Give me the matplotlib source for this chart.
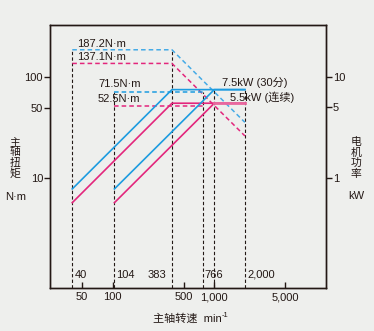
import matplotlib
matplotlib.use("Agg")
import matplotlib.pyplot as plt
import matplotlib.ticker as mticker
import matplotlib.transforms as mtrans

plt.rcParams['font.family'] = ['Liberation Sans', 'Noto Sans CJK SC', 'DejaVu Sans']

# ---- data ----
# torque (N·m) curves, left axis
speed_low = [40, 383, 2000]
torque_30_low = [187.2, 187.2, 35.8]
torque_cont_low = [137.1, 137.1, 26.3]
speed_high = [104, 766]
torque_30_high = [71.5, 71.5]
torque_cont_high = [52.5, 52.5]

# power (kW) curves, right axis
power_speed_low = [40, 383, 2000]
power_30_low = [0.78, 7.5, 7.5]
power_cont_low = [0.57, 5.5, 5.5]
power_speed_high = [104, 1000, 2000]
power_30_high = [0.78, 7.5, 7.5]
power_cont_high = [0.57, 5.5, 5.5]

# reference speeds (vertical lines) and the level they start from (left-axis value)
ref_speeds = [40, 104, 383, 766, 1000, 2000]
ref_tops = [187.2, 71.5, 187.2, 71.5, 75.0, 75.0]
ref_labels = ['40', '104', '383', '766', '', '2,000']

x_ticks = [50, 100, 500, 1000, 5000]
x_ticklabels = ['50', '100', '500', '1,000', '5,000']
yl_ticks = [10, 50, 100]
yr_ticks = [1, 5, 10]

BG = '#eeefed'
BLUE = '#1d9ce0'
BLUE_L = '#46abe6'
PINK = '#e3267c'
PINK_L = '#e9689e'
INK = '#231815'

W, H = 374, 331
fig = plt.figure(figsize=(W / 100, H / 100), dpi=100, facecolor=BG)
L, R, T, B = 50.3, 325.7, 25.3, 288.0
ax = fig.add_axes([L / W, 1 - B / H, (R - L) / W, (B - T) / H])
ax.set_facecolor(BG)
ax.set_xscale('log')
ax.set_yscale('log')
ax.set_xlim(24.3, 12500)
ax.set_ylim(0.82, 327)

ax2 = ax.twinx()
ax2.set_yscale('log')
ax2.set_ylim(0.0815, 32.5)
ax2.patch.set_visible(False)

# vertical reference lines
for s, top in zip(ref_speeds, ref_tops):
    ax.plot([s, s], [0.82, top], color=INK, lw=0.8, ls=(0, (3, 2)), zorder=2)

# torque dashed lines
ax.plot(speed_low, torque_30_low, color=BLUE_L, lw=1.1, ls=(0, (3, 2)), zorder=3)
ax.plot(speed_low, torque_cont_low, color=PINK, lw=1.1, ls=(0, (3, 2)), zorder=3)
ax.plot(speed_high, torque_30_high, color=BLUE, lw=1.1, ls=(0, (3, 2)), zorder=3)
ax.plot(speed_high, torque_cont_high, color=PINK, lw=1.1, ls=(0, (3, 2)), zorder=3)

# power solid lines
ax2.plot(power_speed_low, power_30_low, color=BLUE, lw=1.2, zorder=4)
ax2.plot(power_speed_low, power_cont_low, color=PINK, lw=1.2, zorder=4)
ax2.plot(power_speed_high, power_30_high, color=BLUE, lw=1.2, zorder=4)
ax2.plot(power_speed_high[:2], power_cont_high[:2], color=PINK, lw=1.2, zorder=4)
ax2.plot(power_speed_high[1:], power_cont_high[1:], color=PINK_L, lw=2.0, zorder=4)

# ticks
ax.xaxis.set_major_locator(mticker.FixedLocator(x_ticks))
ax.xaxis.set_major_formatter(mticker.FixedFormatter(x_ticklabels))
ax.xaxis.set_minor_locator(mticker.NullLocator())
ax.yaxis.set_major_locator(mticker.FixedLocator(yl_ticks))
ax.yaxis.set_major_formatter(mticker.FixedFormatter([str(v) for v in yl_ticks]))
ax.yaxis.set_minor_locator(mticker.NullLocator())
ax2.yaxis.set_major_locator(mticker.FixedLocator(yr_ticks))
ax2.yaxis.set_major_formatter(mticker.FixedFormatter([str(v) for v in yr_ticks]))
ax2.yaxis.set_minor_locator(mticker.NullLocator())

ax.tick_params(axis='x', direction='in', length=4.2, width=1.0, color=INK,
               labelsize=8, labelcolor=INK, pad=3)
ax.tick_params(axis='y', direction='out', length=4.2, width=1.0, color=INK,
               labelsize=8, labelcolor=INK, pad=1)
ax2.tick_params(axis='y', direction='out', length=4.2, width=1.0, color=INK,
                labelsize=8, labelcolor=INK, pad=1)
for a in (ax, ax2):
    for sp in a.spines.values():
        sp.set_color(INK)
        sp.set_linewidth(1.0)

# labels inside the axes near the bottom
trans = mtrans.blended_transform_factory(ax.transData, ax.transAxes)
for s, lab in zip(ref_speeds, ref_labels):
    if not lab:
        continue
    if lab == '383':
        ax.annotate(lab, xy=(s, 0.05), xycoords=trans, xytext=(-4, 0),
                    textcoords='offset points', ha='right', va='center',
                    fontsize=8, color=INK)
    else:
        ax.annotate(lab, xy=(s, 0.05), xycoords=trans, xytext=(1.5, 0),
                    textcoords='offset points', ha='left', va='center',
                    fontsize=8, color=INK)

def ftext(x, y, s, **kw):
    kw.setdefault('fontsize', 8)
    kw.setdefault('color', INK)
    kw.setdefault('va', 'center')
    fig.text(x / W, 1 - y / H, s, **kw)

ftext(77, 44, '187.2N·m', ha='left')
ftext(77, 57, '137.1N·m', ha='left')
ftext(98, 84.5, '71.5N·m', ha='left')
ftext(98, 98.5, '52.5N·m', ha='left')
ftext(222, 82.5, '7.5kW (30分)', ha='left')
ftext(230, 97, '5.5kW (连续)', ha='left')

ftext(15, 158, '主\n轴\n扭\n矩', ha='center', linespacing=1.05, fontsize=7.8)
ftext(16, 197, 'N·m', ha='center')
ftext(356, 158, '电\n机\n功\n率', ha='center', linespacing=1.05, fontsize=7.8)
ftext(356, 196, 'kW', ha='center')
ftext(221.5, 319, '主轴转速  min', ha='right')
ftext(221.5, 315.5, '-1', ha='left', fontsize=5.5)

fig.savefig('out.png', dpi=100, facecolor=BG)
